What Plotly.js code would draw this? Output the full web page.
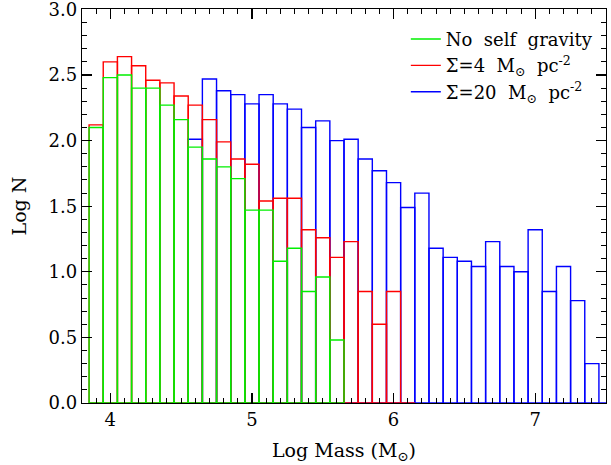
<!DOCTYPE html>
<html><head><meta charset="utf-8">
<script src="https://cdn.plot.ly/plotly-3.0.1.min.js"></script>
<style>html,body{margin:0;padding:0;background:#fff}#chart{width:611px;height:465px}</style>
</head><body><div id="chart"></div>
<script>
// Log mass bin centres and Log N values for each histogram
const noSelfGravityX = [3.9,4.0,4.1,4.2,4.3,4.4,4.5,4.6,4.7,4.8,4.9,5.0,5.1,5.2,5.3,5.4,5.5,5.6];
const noSelfGravityY = [2.10,2.48,2.50,2.40,2.40,2.27,2.16,1.95,1.86,1.80,1.71,1.47,1.47,1.08,1.18,0.85,0.96,0.48];

const sigma4X = [3.9,4.0,4.1,4.2,4.3,4.4,4.5,4.6,4.7,4.8,4.9,5.0,5.1,5.2,5.3,5.4,5.5,5.6,5.7,5.8,5.9,6.0,6.1];
const sigma4Y = [2.12,2.60,2.64,2.57,2.46,2.44,2.34,2.27,2.16,1.99,1.86,1.82,1.54,1.56,1.56,1.32,1.26,1.11,1.23,0.85,0.60,0.85,0.0];

const sigma20X = [4.6,4.7,4.8,4.9,5.0,5.1,5.2,5.3,5.4,5.5,5.6,5.7,5.8,5.9,6.0,6.1,6.2,6.3,6.4,6.5,6.6,6.7,6.8,6.9,7.0,7.1,7.2,7.3,7.4,7.5];
const sigma20Y = [2.01,2.47,2.38,2.35,2.28,2.35,2.28,2.24,2.10,2.15,2.00,2.01,1.86,1.77,1.68,1.49,1.60,1.18,1.11,1.08,1.04,1.23,1.04,1.00,1.32,0.85,1.04,0.78,0.30,0.0];

const NB = '\u00a0';
const seriesNames = [
  'No' + NB + NB + 'self' + NB + NB + 'gravity',
  'Σ=4' + NB + NB + 'M<sub>⊙</sub>' + NB + NB + 'pc<sup>-2</sup>',
  'Σ=20' + NB + NB + 'M<sub>⊙</sub>' + NB + NB + 'pc<sup>-2</sup>'
];
const xTickVals = [4,5,6,7];
const yTickVals = [0,0.5,1.0,1.5,2.0,2.5,3.0];

const GREEN = '#00f000', RED = '#ff0000', BLUE = '#0000ff';
const FONT = 'DejaVu Serif, serif';
const binWidth = 0.1;

function histTrace(x, y, color) {
  return {
    type: 'bar', x: x, y: y, width: binWidth,
    marker: {color: 'rgba(0,0,0,0)', line: {color: color, width: 1.4}},
    showlegend: false, hoverinfo: 'skip'
  };
}
function legendTrace(name, color, group) {
  return {
    type: 'scatter', mode: 'lines', x: [null], y: [null], name: name,
    line: {color: color, width: 1.4}, legendgroup: group, showlegend: true
  };
}

const data = [
  histTrace(sigma20X, sigma20Y, BLUE),
  histTrace(sigma4X, sigma4Y, RED),
  histTrace(noSelfGravityX, noSelfGravityY, GREEN),
  legendTrace(seriesNames[0], GREEN, 'a'),
  legendTrace(seriesNames[1], RED, 'b'),
  legendTrace(seriesNames[2], BLUE, 'c')
];

const axisCommon = {
  showline: true, linecolor: '#000', linewidth: 1.3, mirror: 'ticks',
  ticks: 'inside', ticklen: 10, tickwidth: 1.2, tickcolor: '#000',
  showgrid: false, zeroline: false, ticklabeloverflow: 'allow',
  tickfont: {family: FONT, size: 18, color: '#000'}
};

const layout = {
  width: 611, height: 465,
  margin: {l: 82, r: 5, t: 9, b: 62},
  paper_bgcolor: '#fff', plot_bgcolor: '#fff',
  font: {family: FONT, color: '#000'},
  barmode: 'overlay', bargap: 0,
  xaxis: Object.assign({}, axisCommon, {
    range: [3.8, 7.5], tickvals: xTickVals, ticktext: xTickVals.map(String),
    minor: {dtick: 0.1, tick0: 0, ticks: 'inside', ticklen: 5, tickcolor: '#000', tickwidth: 1},
    title: {text: 'Log' + NB + 'Mass' + NB + '(M<sub>⊙</sub>)', font: {family: FONT, size: 19, color: '#000'}, standoff: 14}
  }),
  yaxis: Object.assign({}, axisCommon, {
    range: [0, 3.003], tickvals: yTickVals, ticktext: yTickVals.map(v => v.toFixed(1)),
    minor: {dtick: 0.1, tick0: 0, ticks: 'inside', ticklen: 5, tickcolor: '#000', tickwidth: 1},
    title: {text: 'Log' + NB + 'N', font: {family: FONT, size: 19, color: '#000'}, standoff: 16}
  }),
  legend: {
    x: 0.618, y: 0.97, xanchor: 'left', yanchor: 'top',
    bgcolor: 'rgba(0,0,0,0)', borderwidth: 0,
    font: {family: FONT, size: 18, color: '#000'},
    tracegroupgap: 6, traceorder: 'normal'
  },
  showlegend: true
};

Plotly.newPlot('chart', data, layout, {staticPlot: true});
</script>
</body></html>
